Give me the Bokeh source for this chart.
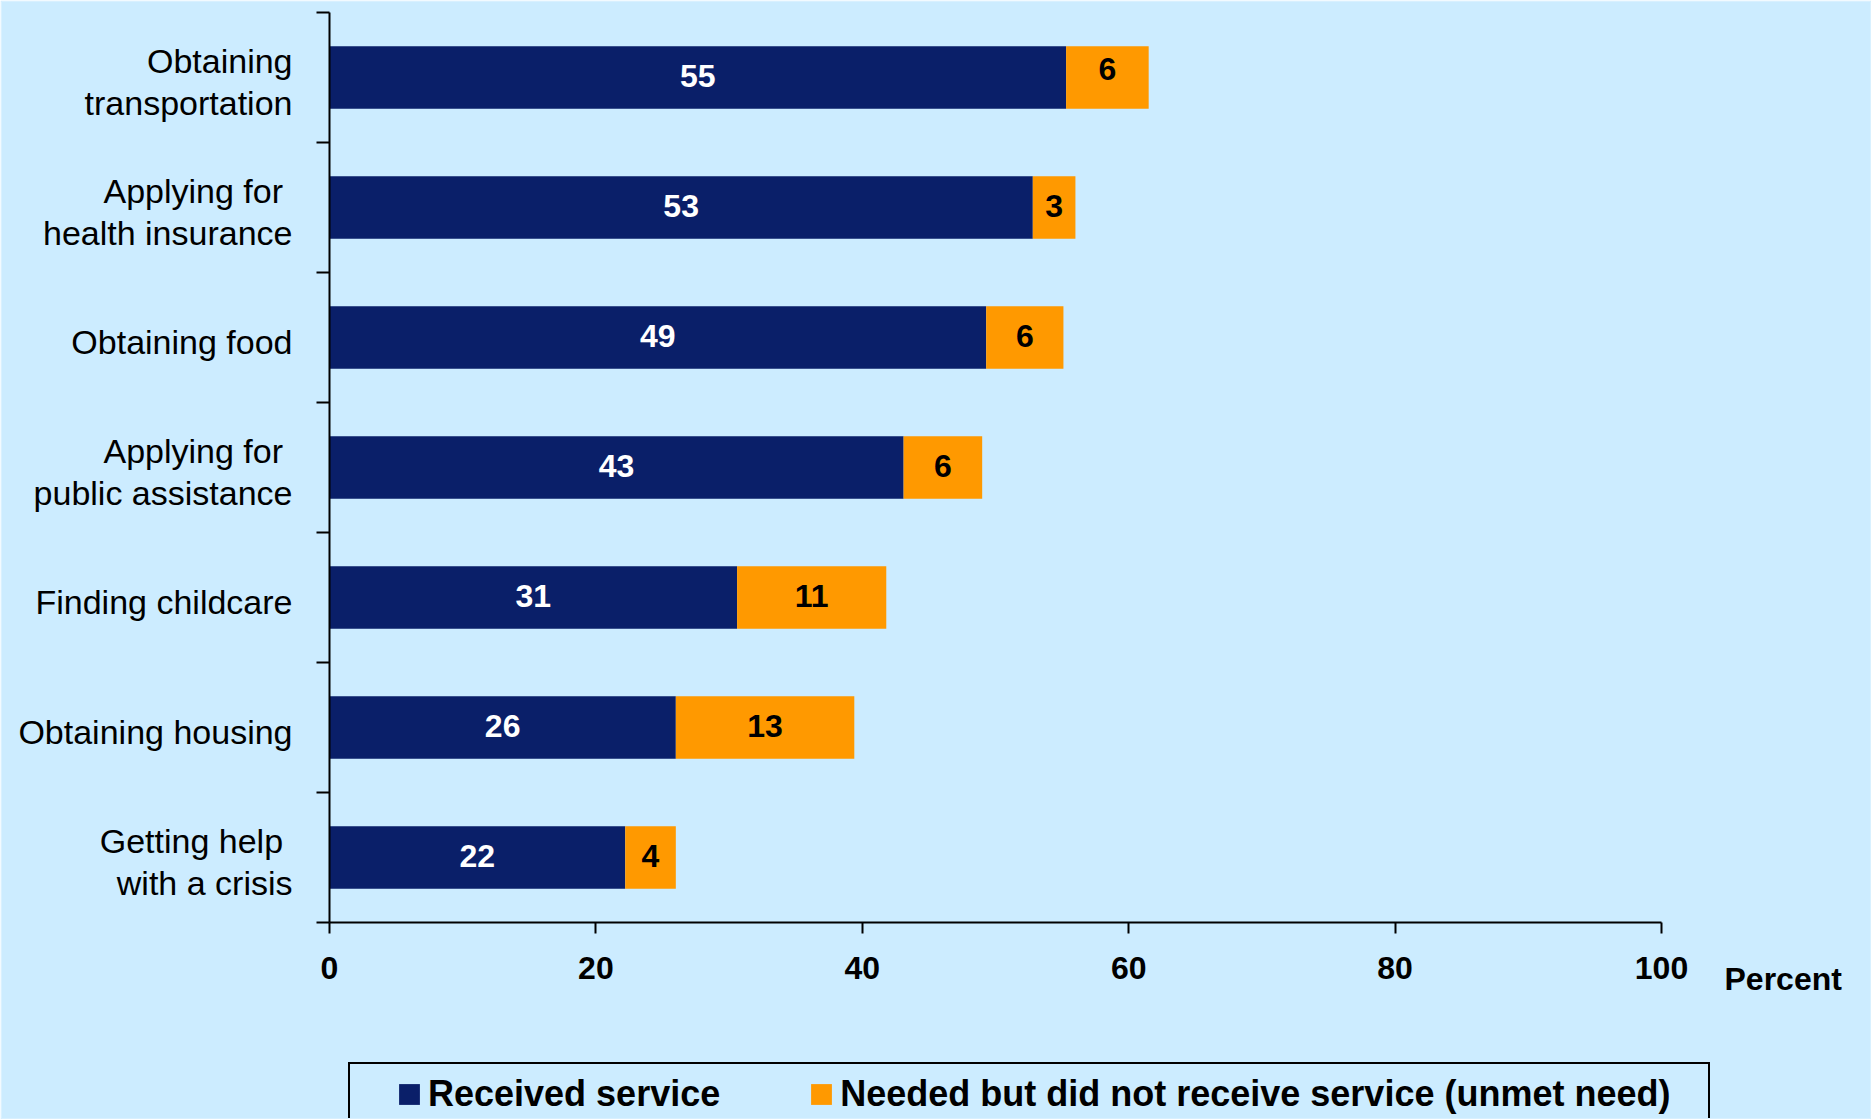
from bokeh.plotting import figure
from bokeh.models import Range1d, FixedTicker, ColumnDataSource, Legend, LegendItem, Label, LinearAxis
from bokeh.embed import file_html
from bokeh.resources import INLINE
from bokeh.core.properties import value

categories = ["Getting help \nwith a crisis", "Obtaining housing", "Finding childcare",
              "Applying for \npublic assistance", "Obtaining food",
              "Applying for \nhealth insurance", "Obtaining\ntransportation"]
received = [22.2, 26.0, 30.6, 43.1, 49.3, 52.8, 55.3]
unmet = [3.8, 13.4, 11.2, 5.9, 5.8, 3.2, 6.2]
received_labels = ["22", "26", "31", "43", "49", "53", "55"]
unmet_labels = ["4", "13", "11", "6", "6", "3", "6"]
x_ticks = [0, 20, 40, 60, 80, 100]

BG = "#CCECFF"
NAVY = "#0A1F69"
ORANGE = "#FF9900"
FONT = "Liberation Sans"

# layout (pixels) of the data area inside the full canvas
W, H = 1871, 1119
B = 1  # thin border round the frame
FL, FR, FT, FB = 329, 1661, 12, 922
n = len(categories)
ppx = (FR - FL) / 100.0
ppy = (FB - FT) / n
xr = Range1d(-(FL - B) / ppx, 100 + (W - B - FR) / ppx)
yr = Range1d(-(H - B - FB) / ppy, n + (FT - B) / ppy)

ypos = [i + 0.5 for i in range(n)]
label_pos = [y - 0.035 for y in ypos]
# screen nudges (px, upward) for the value labels; the top unmet label sits high in the original
rec_nudge = [2] * n
unm_nudge = [2] * (n - 1) + [9]

src = ColumnDataSource(dict(
    y=ypos, rec=received,
    unm_l=received, unm_r=[a + b for a, b in zip(received, unmet)],
    rec_mid=[r / 2 for r in received],
    unm_mid=[a + b / 2 for a, b in zip(received, unmet)],
    rec_lab=received_labels, unm_lab=unmet_labels,
    rec_dy=[-d for d in rec_nudge], unm_dy=[-d for d in unm_nudge],
))

p = figure(width=W, height=H, x_range=xr, y_range=yr,
           output_backend="svg", toolbar_location=None,
           x_axis_location=None, y_axis_location=None,
           min_border=B, min_border_left=B, min_border_right=B,
           min_border_top=B, min_border_bottom=B)
p.background_fill_color = BG
p.border_fill_color = BG
p.outline_line_color = None
p.grid.visible = False

r1 = p.hbar(y="y", left=0, right="rec", height=0.48, source=src, fill_color=NAVY, line_color=None)
r2 = p.hbar(y="y", left="unm_l", right="unm_r", height=0.48, source=src, fill_color=ORANGE, line_color=None)

p.text(x="rec_mid", y="y", text="rec_lab", source=src, text_color="white", y_offset="rec_dy",
       text_font=value(FONT), text_font_style="bold", text_font_size="32px",
       text_align="center", text_baseline="middle")
p.text(x="unm_mid", y="y", text="unm_lab", source=src, text_color="black", y_offset="unm_dy",
       text_font=value(FONT), text_font_style="bold", text_font_size="32px",
       text_align="center", text_baseline="middle")

# x axis, fixed at y = 0
xa = LinearAxis(fixed_location=0, bounds=(0, 100))
xa.ticker = FixedTicker(ticks=x_ticks)
xa.major_tick_out = 11
xa.major_tick_in = 0
xa.minor_tick_out = 0
xa.minor_tick_in = 0
xa.axis_line_width = 2
xa.major_tick_line_width = 2
xa.axis_line_color = "black"
xa.major_tick_line_color = "black"
xa.major_label_text_font = FONT
xa.major_label_text_font_style = "bold"
xa.major_label_text_font_size = "32px"
xa.major_label_text_color = "black"
xa.major_label_standoff = 23
p.add_layout(xa, "below")

# y axis, fixed at x = 0: labels near centres, tick marks at boundaries (minor ticks)
ya = LinearAxis(fixed_location=0, bounds=(0, n))
ya.ticker = FixedTicker(ticks=label_pos, minor_ticks=list(range(n + 1)))
ya.major_label_overrides = {y: c for y, c in zip(label_pos, categories)}
ya.major_tick_out = 0
ya.major_tick_in = 0
ya.minor_tick_out = 13
ya.minor_tick_in = 0
ya.minor_tick_line_width = 2
ya.minor_tick_line_color = "black"
ya.axis_line_width = 2
ya.axis_line_color = "black"
ya.major_label_text_font = FONT
ya.major_label_text_font_size = "34px"
ya.major_label_text_line_height = 1.1
ya.major_label_text_color = "black"
ya.major_label_standoff = 24
p.add_layout(ya, "left")

p.add_layout(Label(x=100, y=0, x_offset=63, y_offset=-56, text="Percent",
                   text_font=FONT, text_font_style="bold", text_font_size="32px",
                   text_baseline="middle", text_align="left", text_color="black"))

GW = 26  # legend glyph box (drawn square is ~80% of it)
legend = Legend(items=[LegendItem(label="Received service", renderers=[r1]),
                       LegendItem(label="Needed but did not receive service (unmet need)", renderers=[r2])],
                orientation="horizontal",
                glyph_width=GW, glyph_height=GW, label_standoff=6, spacing=88,
                margin=0,
                label_text_font=FONT, label_text_font_style="bold", label_text_font_size="36px",
                label_text_color="black",
                border_line_color="black", border_line_width=2, border_line_alpha=1.0,
                background_fill_color=BG, background_fill_alpha=1.0)
try:
    legend.padding = dict(left=46, right=38, top=9, bottom=9)
    legend.location = (348 - B, (H - B) - (1065 + 9 + 43 + 9))
except Exception:
    legend.padding = 22
    legend.location = (375 - B, (H - B) - (1065 + 87))
p.add_layout(legend)

open("out.html", "w").write(file_html(p, INLINE))
